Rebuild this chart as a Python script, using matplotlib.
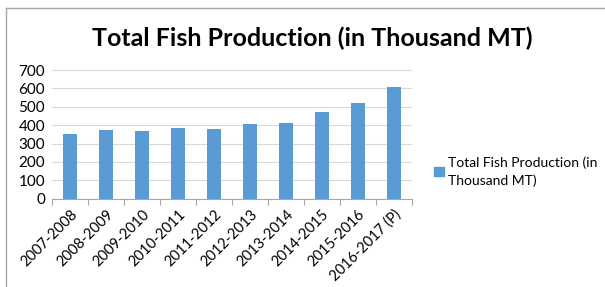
import matplotlib
matplotlib.use("Agg")
import matplotlib.pyplot as plt
from matplotlib.lines import Line2D
from matplotlib.patches import Patch
import numpy as np

plt.rcParams['font.family'] = ['Lato', 'DejaVu Sans']

# datos
periodos = ["2007-2008", "2008-2009", "2009-2010", "2010-2011", "2011-2012",
            "2012-2013", "2013-2014", "2014-2015", "2015-2016", "2016-2017 (P)"]
produccion = [350, 374, 369, 385, 380, 408, 412, 470, 520, 608]
yticks = [0, 100, 200, 300, 400, 500, 600, 700]
titulo = "Total Fish Production (in Thousand MT)"
etiqueta = "Total Fish Production (in\nThousand MT)"

azul = "#5B9BD5"
gris = "#D9D9D9"

fig = plt.figure(figsize=(6.05, 2.87), dpi=100)
ax = fig.add_axes([52 / 605, 1 - 198.7 / 287, 360 / 605, 128.7 / 287])

x = np.arange(len(periodos))
ax.bar(x, produccion, width=0.4, color=azul, zorder=3)

ax.set_xlim(-0.5, len(periodos) - 0.5)
ax.set_ylim(0, 700)
ax.set_yticks(yticks)
ax.yaxis.grid(True, color=gris, linewidth=0.8, zorder=0)
ax.tick_params(axis="y", length=0, labelsize=11, pad=5)

# ticks en los bordes de cada categoria
ax.set_xticks(np.arange(len(periodos) + 1) - 0.5)
ax.set_xticklabels([])
ax.set_xticks(x, minor=True)
ax.set_xticklabels(periodos, minor=True, rotation=45, ha="right",
                   rotation_mode="anchor", fontsize=10.5)
ax.tick_params(axis="x", which="major", length=4, color="#A6A6A6", direction="out")
ax.tick_params(axis="x", which="minor", length=0, pad=6)

for lado in ["left", "right", "top"]:
    ax.spines[lado].set_visible(False)
ax.spines["bottom"].set_color("#A6A6A6")

fig.text(312 / 605, 1 - 38 / 287, titulo, ha="center", va="center",
         fontsize=18, fontweight="bold")

leyenda = fig.legend(handles=[Patch(color=azul)], labels=[etiqueta],
                     loc="upper left", bbox_to_anchor=(434 / 605, 1 - 156 / 287),
                     borderaxespad=0, borderpad=0, labelspacing=0,
                     frameon=False, fontsize=10, handlelength=0.7, handleheight=0.7,
                     handletextpad=0.3)
leyenda.get_texts()[0].set_linespacing(1.55)

# borde del area del grafico
fig.add_artist(Line2D([6 / 605, 6 / 605], [0, 1 - 8 / 287], color="#A6A6A6", lw=1))
fig.add_artist(Line2D([6 / 605, 1], [1 - 8 / 287, 1 - 8 / 287], color="#A6A6A6", lw=1))

fig.savefig("out.png", dpi=100)
